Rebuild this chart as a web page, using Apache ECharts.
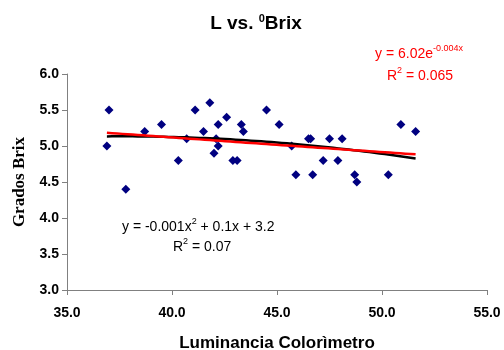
<!DOCTYPE html>
<html>
<head>
<meta charset="utf-8">
<script src="https://cdn.jsdelivr.net/npm/echarts@6/dist/echarts.min.js"></script>
<style>
html,body{margin:0;padding:0;background:#fff;}
#chart{width:504px;height:350px;}
</style>
</head>
<body>
<div id="chart"></div>
<script>
// Data
const luminance = [37.0, 36.9, 37.8, 38.7, 39.5, 40.3, 40.7, 41.1, 41.5, 41.8, 42.1, 42.0, 42.2, 42.2, 42.6, 42.9, 43.1, 43.3, 43.4, 44.5, 45.1, 45.7, 45.9, 46.5, 46.6, 46.7, 47.2, 47.5, 47.9, 48.1, 48.7, 48.8, 50.3, 50.9, 51.6];
const brix      = [5.5, 5.0, 4.4, 5.2, 5.3, 4.8, 5.1, 5.5, 5.2, 5.6, 5.1, 4.9, 5.0, 5.3, 5.4, 4.8, 4.8, 5.3, 5.2, 5.5, 5.3, 5.0, 4.6, 5.1, 5.1, 4.6, 4.8, 5.1, 4.8, 5.1, 4.6, 4.5, 4.6, 5.3, 5.2];
const xTicks = [35, 40, 45, 50, 55];
const yTicks = [3.0, 3.5, 4.0, 4.5, 5.0, 5.5, 6.0];
const titleText = 'L vs. ';
const xTitle = 'Luminancia Colorìmetro';
const yTitle = 'Grados Brix';

// Least-squares trendlines computed from the data (as the spreadsheet did)
function expFit(xs, ys) {
  let sx=0, sy=0, sxx=0, sxy=0;
  for (let i=0;i<xs.length;i++){const ly=Math.log(ys[i]);sx+=xs[i];sy+=ly;sxx+=xs[i]*xs[i];sxy+=xs[i]*ly;}
  const m=xs.length;
  const b=(m*sxy-sx*sy)/(m*sxx-sx*sx);
  const a=Math.exp((sy-b*sx)/m);
  return x=>a*Math.exp(b*x);
}
function polyFit(xs, ys) {
  const S=[0,0,0,0,0], T=[0,0,0];
  for (let i=0;i<xs.length;i++){let p=1;for(let k=0;k<5;k++){S[k]+=p;if(k<3)T[k]+=p*ys[i];p*=xs[i];}}
  const A=[[S[0],S[1],S[2],T[0]],[S[1],S[2],S[3],T[1]],[S[2],S[3],S[4],T[2]]];
  for(let c=0;c<3;c++){for(let r=c+1;r<3;r++){const f=A[r][c]/A[c][c];for(let k=c;k<4;k++)A[r][k]-=f*A[c][k];}}
  const co=[0,0,0];
  for(let r=2;r>=0;r--){let s=A[r][3];for(let k=r+1;k<3;k++)s-=A[r][k]*co[k];co[r]=s/A[r][r];}
  return x=>co[0]+co[1]*x+co[2]*x*x;
}
const fe = expFit(luminance, brix);
const fp = polyFit(luminance, brix);
const xmin = Math.min(...luminance), xmax = Math.max(...luminance);
const expLine = [], polyLine = [];
for (let i=0;i<=60;i++){const x=xmin+(xmax-xmin)*i/60;expLine.push([x,fe(x)]);polyLine.push([x,fp(x)]);}

const chart = echarts.init(document.getElementById('chart'), null, {renderer:'canvas'});
const SANS = 'Liberation Sans, Arial, sans-serif';
const labelFont = {fontFamily:SANS, fontWeight:'bold', fontSize:14, color:'#000'};
function eqRich(color){
  return {
    b:{fontFamily:SANS,fontSize:14,fill:color,verticalAlign:'bottom',lineHeight:17},
    s:{fontFamily:SANS,fontSize:9,fill:color,verticalAlign:'top',lineHeight:11}
  };
}
chart.setOption({
  animation:false,
  backgroundColor:'#fff',
  title:{
    text:'{a|' + titleText + '}{s|0}{a|Brix}',
    left:251, top:8, textAlign:'center',
    textStyle:{rich:{
      a:{fontFamily:SANS,fontWeight:'bold',fontSize:19,color:'#000',verticalAlign:'bottom',lineHeight:20},
      s:{fontFamily:SANS,fontWeight:'bold',fontSize:11,color:'#000',verticalAlign:'top',lineHeight:14}
    }}
  },
  grid:{left:67,right:17,top:74,bottom:60,containLabel:false,outerBoundsMode:'none'},
  xAxis:{
    type:'value',min:xTicks[0],max:xTicks[xTicks.length-1],interval:5,
    name:xTitle,nameLocation:'middle',nameGap:45,
    nameTextStyle:{fontFamily:SANS,fontWeight:'bold',fontSize:17,color:'#000'},
    axisLine:{show:true,lineStyle:{color:'#808080',width:1}},
    axisTick:{show:true,length:5,lineStyle:{color:'#808080'}},
    axisLabel:Object.assign({margin:16,formatter:v=>v.toFixed(1)},labelFont),
    splitLine:{show:false}
  },
  yAxis:{
    type:'value',min:yTicks[0],max:yTicks[yTicks.length-1],interval:0.5,
    name:yTitle,nameLocation:'middle',nameGap:39,
    nameTextStyle:{fontFamily:'Liberation Serif, Times New Roman, serif',fontWeight:'bold',fontSize:17,color:'#000'},
    axisLine:{show:true,lineStyle:{color:'#808080',width:1}},
    axisTick:{show:true,length:5,lineStyle:{color:'#808080'}},
    axisLabel:Object.assign({margin:8,formatter:v=>v.toFixed(1)},labelFont),
    splitLine:{show:false}
  },
  series:[
    {type:'scatter',data:luminance.map((x,i)=>[x,brix[i]]),symbol:'diamond',symbolSize:9,itemStyle:{color:'#000080',opacity:1},z:3},
    {type:'line',data:polyLine,showSymbol:false,smooth:false,lineStyle:{color:'#000',width:2.5},z:4},
    {type:'line',data:expLine,showSymbol:false,smooth:false,lineStyle:{color:'#ff0000',width:2.5},z:5}
  ],
  graphic:[
    {type:'text',left:375,top:44,style:{text:'{b|y = 6.02e}{s|-0.004x}',rich:eqRich('#ff0000')}},
    {type:'text',left:387,top:66,style:{text:'{b|R}{s|2}{b| = 0.065}',rich:eqRich('#ff0000')}},
    {type:'text',left:122,top:217,style:{text:'{b|y = -0.001x}{s|2}{b| + 0.1x + 3.2}',rich:eqRich('#000')}},
    {type:'text',left:173,top:237,style:{text:'{b|R}{s|2}{b| = 0.07}',rich:eqRich('#000')}}
  ]
});
</script>
</body>
</html>
